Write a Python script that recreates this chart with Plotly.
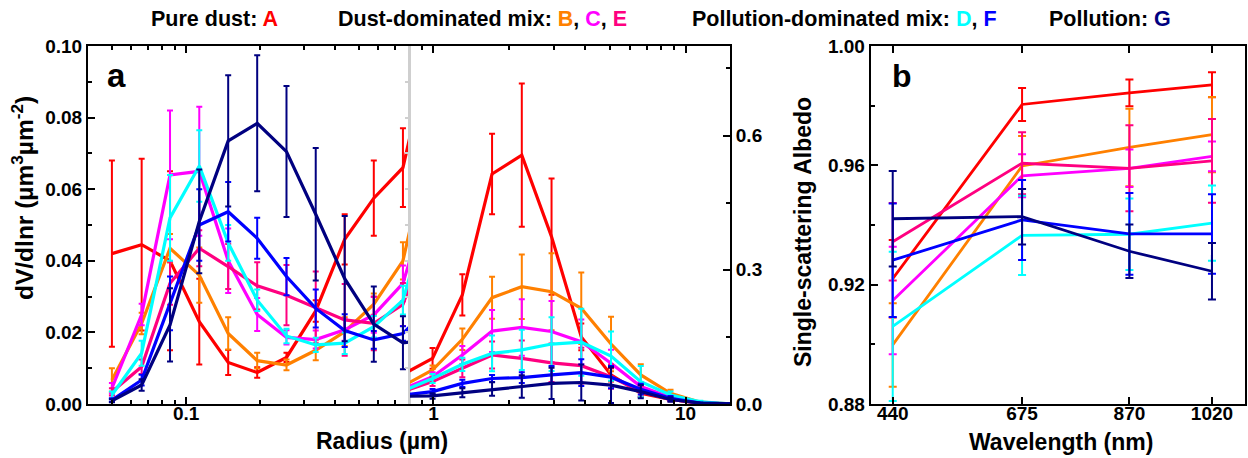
import plotly.graph_objects as go

# ---------------- data ----------------
# radius bins (µm) of the retrieved volume size distribution
radius = [0.050, 0.066, 0.086, 0.113, 0.148, 0.194, 0.255, 0.335, 0.439, 0.576, 0.756,
          0.992, 1.302, 1.708, 2.241, 2.940, 3.857, 5.061, 6.641, 8.713, 11.432, 15.000]

dv_A = [0.042, 0.0445, 0.040, 0.023, 0.0116, 0.0088, 0.0130, 0.026, 0.046, 0.0575, 0.066,
        0.102, 0.244, 0.514, 0.556, 0.374, 0.150, 0.065, 0.024, 0.010, 0.002, 0.0003]
err_A = [0.026, 0.024, 0.025, 0.012, 0.0035, 0.0015, 0.0013, 0.003, 0.007, 0.0105, 0.011,
         0.023, 0.046, 0.090, 0.160, 0.130, 0.030, 0.015, 0.008, 0.003, 0.001, 0.0]

dv_B = [0.0067, 0.0225, 0.0435, 0.036, 0.0197, 0.0121, 0.0109, 0.015, 0.0202, 0.0279, 0.040,
        0.076, 0.1445, 0.2376, 0.262, 0.251, 0.214, 0.134, 0.065, 0.024, 0.004, 0.0005]
err_B = [0.0033, 0.003, 0.004, 0.0077, 0.0045, 0.0022, 0.0015, 0.0028, 0.004, 0.003, 0.0052,
         0.010, 0.024, 0.047, 0.072, 0.086, 0.080, 0.061, 0.024, 0.008, 0.002, 0.0]

dv_C = [0.0044, 0.025, 0.064, 0.065, 0.040, 0.025, 0.0186, 0.018, 0.0207, 0.0249, 0.0337,
        0.061, 0.1095, 0.163, 0.171, 0.162, 0.139, 0.091, 0.039, 0.015, 0.003, 0.0004]
err_C = [0.0015, 0.003, 0.018, 0.018, 0.009, 0.0046, 0.002, 0.0025, 0.003, 0.005, 0.005,
         0.010, 0.020, 0.047, 0.063, 0.068, 0.050, 0.030, 0.010, 0.004, 0.001, 0.0]

dv_D = [0.0025, 0.0142, 0.052, 0.0665, 0.045, 0.029, 0.019, 0.0165, 0.017, 0.0216, 0.029,
        0.057, 0.0886, 0.113, 0.121, 0.134, 0.138, 0.107, 0.050, 0.020, 0.005, 0.0005]
err_D = [0.001, 0.0035, 0.012, 0.010, 0.005, 0.003, 0.002, 0.002, 0.003, 0.003, 0.004,
         0.010, 0.015, 0.040, 0.045, 0.060, 0.075, 0.055, 0.035, 0.008, 0.002, 0.0]

dv_E = [0.0034, 0.0104, 0.0337, 0.0435, 0.0384, 0.033, 0.0304, 0.027, 0.0235, 0.0225, 0.0278,
        0.050, 0.0797, 0.1095, 0.102, 0.092, 0.0857, 0.061, 0.0276, 0.010, 0.002, 0.0003]
err_E = [0.001, 0.002, 0.006, 0.005, 0.0063, 0.0066, 0.0084, 0.010, 0.010, 0.0075, 0.006,
         0.010, 0.020, 0.030, 0.040, 0.043, 0.040, 0.027, 0.012, 0.004, 0.001, 0.0]

dv_F = [0.0011, 0.0067, 0.0281, 0.050, 0.0537, 0.0463, 0.0356, 0.0267, 0.0205, 0.0179, 0.0197,
        0.0276, 0.046, 0.057, 0.059, 0.065, 0.070, 0.060, 0.033, 0.0127, 0.002, 0.0003]
err_F = [0.0005, 0.0015, 0.0075, 0.010, 0.0083, 0.0057, 0.0052, 0.0053, 0.0046, 0.0025, 0.002,
         0.006, 0.008, 0.008, 0.012, 0.020, 0.030, 0.025, 0.012, 0.005, 0.001, 0.0]

dv_G = [0.0009, 0.0053, 0.0221, 0.051, 0.0735, 0.0784, 0.0705, 0.053, 0.035, 0.0223, 0.0171,
        0.018, 0.025, 0.0335, 0.039, 0.046, 0.048, 0.042, 0.0276, 0.010, 0.002, 0.0003]
err_G = [0.0004, 0.0016, 0.0102, 0.0145, 0.0183, 0.019, 0.0183, 0.0185, 0.0175, 0.0105, 0.0074,
         0.006, 0.010, 0.015, 0.025, 0.035, 0.040, 0.040, 0.015, 0.005, 0.001, 0.0]

# single-scattering albedo
wavelength = [440, 675, 870, 1020]
ssa_A = [0.922, 0.9804, 0.9843, 0.987]
ssa_err_A = [0.013, 0.0055, 0.0045, 0.0042]
ssa_B = [0.8998, 0.9598, 0.966, 0.9703]
ssa_err_B = [0.014, 0.010, 0.013, 0.0126]
ssa_C = [0.9147, 0.9565, 0.959, 0.963]
ssa_err_C = [0.018, 0.0072, 0.0063, 0.005]
ssa_D = [0.906, 0.9365, 0.9369, 0.9406]
ssa_err_D = [0.025, 0.0133, 0.012, 0.0126]
ssa_E = [0.9344, 0.9607, 0.959, 0.9615]
ssa_err_E = [0.013, 0.0104, 0.0144, 0.014]
ssa_F = [0.9282, 0.9417, 0.937, 0.937]
ssa_err_F = [0.019, 0.0134, 0.0137, 0.0133]
ssa_G = [0.9421, 0.9428, 0.9312, 0.9245]
ssa_err_G = [0.016, 0.0093, 0.009, 0.0095]

col_A = "#FF0000"
col_B = "#FF8000"
col_C = "#FF00FF"
col_D = "#00FFFF"
col_E = "#FF0080"
col_F = "#0000FF"
col_G = "#000080"

size_series = [
    (dv_A, err_A, col_A), (dv_B, err_B, col_B), (dv_C, err_C, col_C),
    (dv_E, err_E, col_E), (dv_D, err_D, col_D), (dv_F, err_F, col_F),
    (dv_G, err_G, col_G),
]
ssa_series = [
    (ssa_A, ssa_err_A, col_A), (ssa_B, ssa_err_B, col_B), (ssa_C, ssa_err_C, col_C),
    (ssa_E, ssa_err_E, col_E), (ssa_D, ssa_err_D, col_D), (ssa_F, ssa_err_F, col_F),
    (ssa_G, ssa_err_G, col_G),
]

# ---------------- layout geometry ----------------
W, H = 1248, 458
SPLIT_R = 0.8   # radius where the two y-scales meet


def fx(p):
    return p / W


def fy(p):
    return 1 - p / H


FONT = "Liberation Sans, Arial, sans-serif"
tickfont = dict(family=FONT, size=19, color="black", weight="bold")

fig = go.Figure()

# ---------------- panel a: size distribution ----------------
for vals, errs, color in size_series:
    for xa, ya, keep in (("x", "y", lambda r: r < SPLIT_R), ("x2", "y2", lambda r: r > SPLIT_R)):
        sel = [i for i, r in enumerate(radius) if keep(r)]
        fig.add_trace(go.Scatter(
            x=[radius[i] for i in sel], y=[vals[i] for i in sel],
            mode="markers", marker=dict(size=1, color="rgba(0,0,0,0)"),
            error_y=dict(type="data", array=[errs[i] for i in sel], color=color,
                         thickness=2, width=3),
            xaxis=xa, yaxis=ya, showlegend=False, hoverinfo="skip"))
        fig.add_trace(go.Scatter(
            x=radius, y=vals, mode="lines", line=dict(color=color, width=3.2),
            xaxis=xa, yaxis=ya, showlegend=False))

# empty trace so the break axis (y4) is rendered
fig.add_trace(go.Scatter(x=[], y=[], xaxis="x", yaxis="y4", showlegend=False))

# ---------------- panel b: single-scattering albedo ----------------
for vals, errs, color in ssa_series:
    fig.add_trace(go.Scatter(
        x=wavelength, y=vals, mode="lines", line=dict(color=color, width=2.8),
        error_y=dict(type="data", array=errs, color=color, thickness=2, width=4),
        xaxis="x3", yaxis="y3", showlegend=False))

axis_common = dict(showline=True, linecolor="black", linewidth=2, ticks="inside",
                   ticklen=7, tickwidth=1.5, tickcolor="black", showgrid=False,
                   zeroline=False, tickfont=tickfont, automargin=False)

y_dom = [fy(404), fy(46)]

fig.update_layout(
    width=W, height=H, margin=dict(l=0, r=0, t=0, b=0, autoexpand=False),
    paper_bgcolor="white", plot_bgcolor="white",
    xaxis=dict(axis_common, type="log", domain=[fx(88), fx(409)],
               range=[-1.39794, -0.09691], anchor="y", mirror="ticks",
               tickvals=[0.1], ticktext=["0.1"], ticklabelstandoff=-9,
               minor=dict(tickvals=[0.05, 0.06, 0.07, 0.08, 0.09, 0.2, 0.3, 0.4, 0.5, 0.6, 0.7],
                          ticks="inside", ticklen=4, tickwidth=1.5, tickcolor="black")),
    xaxis2=dict(axis_common, type="log", domain=[fx(409), fx(730)],
                range=[-0.09691, 1.17609], anchor="y2", mirror="ticks",
                tickvals=[1, 10], ticktext=["1", "10"], ticklabelstandoff=-9,
                minor=dict(tickvals=[0.9, 2, 3, 4, 5, 6, 7, 8, 9],
                           ticks="inside", ticklen=4, tickwidth=1.5, tickcolor="black")),
    yaxis=dict(axis_common, domain=y_dom, range=[0, 0.1], anchor="x",
               dtick=0.02, tick0=0, tickformat=".2f",
               minor=dict(dtick=0.01, ticks="inside", ticklen=4, tickwidth=1.5,
                          tickcolor="black")),
    yaxis2=dict(axis_common, domain=y_dom, range=[0, 0.8], anchor="x2", side="right",
                dtick=0.3, tick0=0, tickformat=".1f",
                minor=dict(dtick=0.15, ticks="inside", ticklen=4, tickwidth=1.5,
                           tickcolor="black")),
    # faint scale marks along the break between the two size ranges
    yaxis4=dict(overlaying="y", anchor="x", side="right", range=[0, 0.1],
                showline=True, linecolor="#cfcfcf", linewidth=2, ticks="inside",
                ticklen=4, tickwidth=1.5, tickcolor="#cfcfcf", dtick=0.01,
                showticklabels=False, showgrid=False, zeroline=False, automargin=False),
    xaxis3=dict(axis_common, domain=[fx(870.7), fx(1245)], range=[400, 1080],
                anchor="y3", mirror="ticks", tickvals=wavelength, ticklabelstandoff=-9,
                ticktext=[str(w) for w in wavelength]),
    yaxis3=dict(axis_common, domain=y_dom, range=[0.88, 1.0], anchor="x3", mirror=True,
                dtick=0.04, tick0=0.88, tickformat=".2f",
                minor=dict(dtick=0.02, ticks="inside", ticklen=4, tickwidth=1.5,
                           tickcolor="black")),
)

# light separator between the two radius ranges
fig.add_shape(type="line", xref="paper", yref="paper", x0=fx(409), x1=fx(409),
              y0=fy(404), y1=fy(46), line=dict(color="#cfcfcf", width=2), layer="above")

# ---------------- text ----------------
def ann(text, x, y, size, angle=0, xanchor="center"):
    fig.add_annotation(text=text, x=fx(x), y=fy(y), xref="paper", yref="paper",
                       xanchor=xanchor, yanchor="middle", showarrow=False,
                       textangle=angle,
                       font=dict(family=FONT, size=size, color="black", weight="bold"))


def tag(letter, color):
    return f"<span style='color:{color}'>{letter}</span>"


ann("Pure dust: " + tag("A", col_A), 214.5, 19, 21.5)
ann("Dust-dominated mix: " + tag("B", col_B) + ", " + tag("C", col_C) + ", " + tag("E", col_E),
    482, 19, 21.5)
ann("Pollution-dominated mix: " + tag("D", col_D) + ", " + tag("F", col_F), 844.5, 19, 21.5)
ann("Pollution: " + tag("G", col_G), 1110, 19, 21.5)

ann("Radius (µm)", 382, 441, 23)
ann("Wavelength (nm)", 1061, 442, 23)
ann("dV/dlnr (µm<sup>3</sup>µm<sup>-2</sup>)", 22, 198, 24.5, angle=-90)
ann("Single-scattering Albedo", 803, 232, 23, angle=-90)
ann("a", 116, 76, 33)
ann("b", 902, 76, 32)

fig.write_html("out.html")
